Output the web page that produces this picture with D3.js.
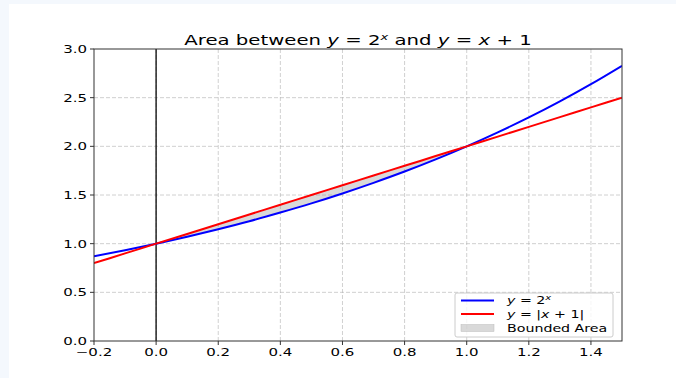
<!DOCTYPE html>
<html>
<head>
<meta charset="utf-8">
<script src="https://cdn.jsdelivr.net/npm/d3@7"></script>
<style>
  html, body { margin: 0; padding: 0; background: #f4f8fd; }
  svg { display: block; }
  text { font-family: "DejaVu Sans", sans-serif; fill: #000; }
</style>
</head>
<body>
<div id="plot"></div>
<script>
// values
var xVals   = [-0.2, -0.1, 0.0, 0.1, 0.2, 0.3, 0.4, 0.5, 0.6, 0.7, 0.8, 0.9, 1.0, 1.1, 1.2, 1.3, 1.4, 1.5];
var expVals = [0.871, 0.933, 1.0, 1.072, 1.149, 1.231, 1.320, 1.414, 1.516, 1.625, 1.741, 1.866, 2.0, 2.144, 2.297, 2.462, 2.639, 2.828];
var linVals = [0.8, 0.9, 1.0, 1.1, 1.2, 1.3, 1.4, 1.5, 1.6, 1.7, 1.8, 1.9, 2.0, 2.1, 2.2, 2.3, 2.4, 2.5];
var fillFrom = 0.0, fillTo = 1.0;
var xTicks = [-0.2, 0.0, 0.2, 0.4, 0.6, 0.8, 1.0, 1.2, 1.4];
var yTicks = [0.0, 0.5, 1.0, 1.5, 2.0, 2.5, 3.0];
var legendLabels = ["exp", "abs", "Bounded Area"];

var W = 676, H = 378;
var margin = {left: 94, right: 54, top: 49, bottom: 37};

var svg = d3.select("#plot").append("svg").attr("width", W).attr("height", H);
svg.append("rect").attr("x", 9).attr("y", 4).attr("width", W - 9).attr("height", H - 4).attr("fill", "#fff");

var x = d3.scaleLinear().domain([-0.2, 1.5]).range([margin.left, W - margin.right]);
var y = d3.scaleLinear().domain([0, 3]).range([H - margin.bottom, margin.top]);

// the figure was squeezed vertically, so text is too
function label(px, py, anchor, size, sy) {
	return svg.append("text")
		.attr("transform", "translate(" + px + "," + py + ") scale(1," + sy + ")")
		.attr("text-anchor", anchor)
		.style("font-size", size + "px");
}
function fmt(v) { return d3.format(".1f")(v).replace("-", "\u2212"); }

// grid
svg.append("g").selectAll("line").data(xTicks.filter(function(t){ return t > -0.2; })).enter().append("line")
	.attr("x1", function(d){ return x(d); }).attr("x2", function(d){ return x(d); })
	.attr("y1", y(0)).attr("y2", y(3))
	.attr("stroke", "#b0b0b0").attr("stroke-opacity", 0.6).attr("stroke-dasharray", "4,2");
svg.append("g").selectAll("line").data(yTicks.filter(function(t){ return t > 0 && t < 3; })).enter().append("line")
	.attr("x1", x(-0.2)).attr("x2", x(1.5))
	.attr("y1", function(d){ return y(d); }).attr("y2", function(d){ return y(d); })
	.attr("stroke", "#b0b0b0").attr("stroke-opacity", 0.6).attr("stroke-dasharray", "4,2");

// shaded area between curves
var fillIdx = d3.range(xVals.length).filter(function(i){ return xVals[i] >= fillFrom && xVals[i] <= fillTo; });
svg.append("path")
	.datum(fillIdx)
	.attr("d", d3.area().curve(d3.curveMonotoneX)
		.x(function(i){ return x(xVals[i]); })
		.y0(function(i){ return y(expVals[i]); })
		.y1(function(i){ return y(linVals[i]); }))
	.attr("fill", "gray").attr("fill-opacity", 0.3);

// axvline at x=0
svg.append("line").attr("x1", x(0)).attr("x2", x(0)).attr("y1", y(0)).attr("y2", y(3))
	.attr("stroke", "#000").attr("stroke-opacity", 0.8).attr("stroke-width", 1.6);

svg.append("clipPath").attr("id", "clip").append("rect")
	.attr("x", x(-0.2)).attr("y", y(3)).attr("width", x(1.5) - x(-0.2)).attr("height", y(0) - y(3));

var line = d3.line().curve(d3.curveMonotoneX);
svg.append("path")
	.attr("d", line(xVals.map(function(v, i){ return [x(v), y(expVals[i])]; })))
	.attr("fill", "none").attr("stroke", "blue").attr("stroke-width", 2).attr("clip-path", "url(#clip)");
svg.append("path")
	.attr("d", line(xVals.map(function(v, i){ return [x(v), y(linVals[i])]; })))
	.attr("fill", "none").attr("stroke", "red").attr("stroke-width", 2).attr("clip-path", "url(#clip)");

// spines
svg.append("rect").attr("x", x(-0.2)).attr("y", y(3)).attr("width", x(1.5) - x(-0.2)).attr("height", y(0) - y(3))
	.attr("fill", "none").attr("stroke", "#333").attr("stroke-width", 1);

// ticks + labels
xTicks.forEach(function(t){
	svg.append("line").attr("x1", x(t)).attr("x2", x(t)).attr("y1", y(0)).attr("y2", y(0) + 4).attr("stroke", "#333");
	label(x(t), y(0) + 15, "middle", 15, 0.66).text(fmt(t));
});
yTicks.forEach(function(t){
	svg.append("line").attr("x1", x(-0.2) - 4).attr("x2", x(-0.2)).attr("y1", y(t)).attr("y2", y(t)).attr("stroke", "#333");
	label(x(-0.2) - 7, y(t) + 4, "end", 15, 0.66).text(fmt(t));
});

// title
var title = label(358, 45, "middle", 19.7, 0.7);
title.append("tspan").text("Area between ");
title.append("tspan").style("font-style", "italic").text("y");
title.append("tspan").text(" = 2");
title.append("tspan").style("font-style", "italic").style("font-size", "13px").attr("dy", -7).text("x");
title.append("tspan").attr("dy", 7).text(" and ");
title.append("tspan").style("font-style", "italic").text("y");
title.append("tspan").text(" = ");
title.append("tspan").style("font-style", "italic").text("x");
title.append("tspan").text(" + 1");

// legend
var lg = svg.append("g");
lg.append("rect").attr("x", 455).attr("y", 293).attr("width", 158).attr("height", 44).attr("rx", 2)
	.attr("fill", "#fff").attr("fill-opacity", 0.8).attr("stroke", "#ccc");
var rows = [300.5, 314, 328];
lg.append("line").attr("x1", 461).attr("x2", 494).attr("y1", rows[0]).attr("y2", rows[0]).attr("stroke", "blue").attr("stroke-width", 2);
lg.append("line").attr("x1", 461).attr("x2", 494).attr("y1", rows[1]).attr("y2", rows[1]).attr("stroke", "red").attr("stroke-width", 2);
lg.append("rect").attr("x", 461).attr("y", rows[2] - 3.5).attr("width", 33).attr("height", 7)
	.attr("fill", "gray").attr("fill-opacity", 0.3).attr("stroke", "#bbb").attr("stroke-width", 0.5);

var l0 = label(507, rows[0] + 3.5, "start", 14.2, 0.68);
l0.append("tspan").style("font-style", "italic").text("y");
l0.append("tspan").text(" = 2");
l0.append("tspan").style("font-style", "italic").style("font-size", "10px").attr("dy", -6).text("x");
var l1 = label(507, rows[1] + 3.5, "start", 14.2, 0.68);
l1.append("tspan").style("font-style", "italic").text("y");
l1.append("tspan").text(" = |");
l1.append("tspan").style("font-style", "italic").text("x");
l1.append("tspan").text(" + 1|");
label(507, rows[2] + 3.5, "start", 14.2, 0.68).text(legendLabels[2]);
</script>
</body>
</html>
